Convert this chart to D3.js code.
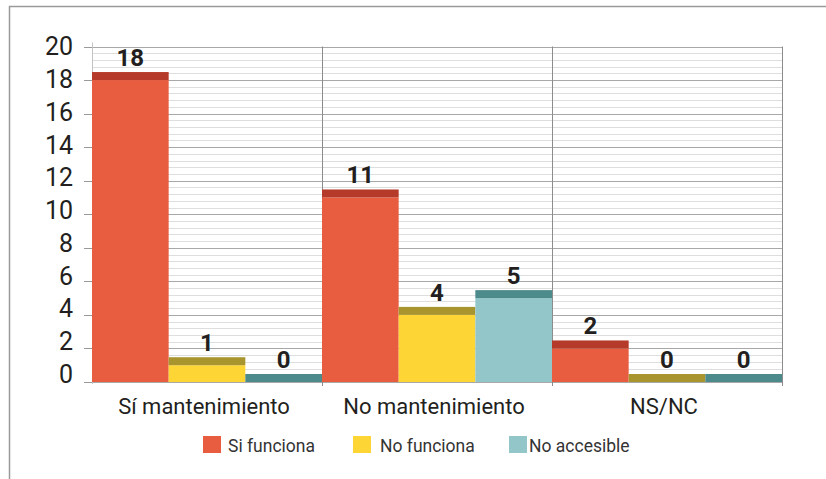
<!DOCTYPE html>
<html>
<head>
<meta charset="utf-8">
<script src="https://cdnjs.cloudflare.com/ajax/libs/d3/7.8.5/d3.min.js"></script>
<style>
  html, body { margin: 0; padding: 0; background: #fff; }
  svg { display: block; font-family: Roboto, "DejaVu Sans", sans-serif; }
</style>
</head>
<body>
<script>
'use strict';

// chart data
const groups = ["Sí mantenimiento", "No mantenimiento", "NS/NC"];
const seriesNames = ["Si funciona", "No funciona", "No accesible"];
const siFunciona = [18, 11, 2];
const noFunciona = [1, 4, 0];
const noAccesible = [0, 5, 0];
const yTicks = [0, 2, 4, 6, 8, 10, 12, 14, 16, 18, 20];

const bodyColors = ["#e85d3f", "#fdd535", "#93c6c9"];
const topColors = ["#b63a29", "#a8952e", "#4d8a8c"];

(function() {
  let svg = null;

  window.onload = function() {
    svg = d3.select('body')
      .append('svg')
      .attr('width', 826)
      .attr('height', 479);
    makeChart();
  }

  function makeChart() {
    const values = [siFunciona, noFunciona, noAccesible];
    let rows = [];
    groups.forEach((g, gi) => {
      seriesNames.forEach((s, si) => {
        rows.push({ group: g, series: s, si: si, value: values[si][gi] });
      });
    });

    // outer frame (top and left only)
    svg.append('path')
      .attr('d', 'M9.5,479 V6.5 H826')
      .attr('fill', 'none')
      .attr('stroke', '#9a9a9a')
      .attr('stroke-width', 1.5);

    let x0 = d3.scaleBand().domain(groups).range([92, 782]).padding(0);
    let x1 = d3.scaleBand().domain(seriesNames).range([0, x0.bandwidth()]).padding(0);
    let y = d3.scaleLinear().domain([0, 20]).range([382, 46.5]);

    // minor grid lines
    let minor = d3.range(0, 20.01, 0.4);
    svg.append('g').selectAll('line')
      .data(minor)
      .enter().append('line')
        .attr('x1', 92).attr('x2', 782)
        .attr('y1', (d) => Math.round(y(d)) + 0.5)
        .attr('y2', (d) => Math.round(y(d)) + 0.5)
        .attr('stroke', '#dedede')
        .attr('stroke-width', 1);

    // major grid lines
    svg.append('g').selectAll('line')
      .data(yTicks)
      .enter().append('line')
        .attr('x1', 92).attr('x2', 782)
        .attr('y1', (d) => Math.round(y(d)) + 0.5)
        .attr('y2', (d) => Math.round(y(d)) + 0.5)
        .attr('stroke', '#a8a8a8')
        .attr('stroke-width', 1);

    // vertical separators
    let seps = groups.slice(1).map((g) => x0(g)).concat([782]);
    svg.append('g').selectAll('line')
      .data(seps)
      .enter().append('line')
        .attr('x1', (d) => Math.round(d) + 0.5).attr('x2', (d) => Math.round(d) + 0.5)
        .attr('y1', y(20)).attr('y2', 386)
        .attr('stroke', '#8c8c8c');

    svg.append('line')
      .attr('x1', 92.5).attr('x2', 92.5)
      .attr('y1', y(20) - 4).attr('y2', 384)
      .attr('stroke', '#c4c4c4');

    // y ticks
    svg.append('g').selectAll('line')
      .data(yTicks)
      .enter().append('line')
        .attr('x1', 84).attr('x2', 92)
        .attr('y1', (d) => Math.round(y(d)) + 0.5)
        .attr('y2', (d) => Math.round(y(d)) + 0.5)
        .attr('stroke', '#9a9a9a');

    svg.append('g').selectAll('text')
      .data(yTicks)
      .enter().append('text')
        .attr('x', 73)
        .attr('y', (d) => y(d) - (20 - d) * 0.4)
        .attr('dy', '0.35em')
        .attr('text-anchor', 'end')
        .style('font-size', '25px')
        .style('fill', '#231f20')
        .text((d) => d);

    // bars
    let bars = svg.append('g').selectAll('g')
      .data(rows)
      .enter().append('g')
        .attr('transform', (d) => 'translate(' + (x0(d.group) + x1(d.series)) + ',0)');

    bars.append('rect')
      .attr('x', 0)
      .attr('y', (d) => y(d.value))
      .attr('width', x1.bandwidth())
      .attr('height', (d) => y(0) - y(d.value))
      .attr('fill', (d) => bodyColors[d.si]);

    bars.append('rect')
      .attr('x', 0)
      .attr('y', (d) => y(d.value) - 8)
      .attr('width', x1.bandwidth())
      .attr('height', 8)
      .attr('fill', (d) => topColors[d.si]);

    bars.append('text')
      .attr('x', x1.bandwidth() / 2)
      .attr('y', (d) => y(d.value) - 14)
      .attr('text-anchor', 'middle')
      .style('font-size', '24px')
      .style('font-weight', 'bold')
      .style('fill', '#231f20')
      .text((d) => d.value);

    // category labels
    svg.append('g').selectAll('text')
      .data(groups)
      .enter().append('text')
        .attr('x', (d) => x0(d) + x0.bandwidth() / 2 - 3)
        .attr('y', 414)
        .attr('text-anchor', 'middle')
        .style('font-size', '22px')
        .style('fill', '#231f20')
        .text((d) => d);

    // legend
    let legendX = [203, 353, 509];
    let textX = [228, 380, 529];
    let legend = svg.append('g').selectAll('g')
      .data(seriesNames)
      .enter().append('g');

    legend.append('rect')
      .attr('x', (d, i) => legendX[i])
      .attr('y', 436)
      .attr('width', 18)
      .attr('height', 17)
      .attr('fill', (d, i) => bodyColors[i]);

    legend.append('text')
      .attr('x', (d, i) => textX[i])
      .attr('y', 452)
      .style('font-size', '17.5px')
      .style('fill', '#333')
      .text((d) => d);
  }
})();
</script>
</body>
</html>
